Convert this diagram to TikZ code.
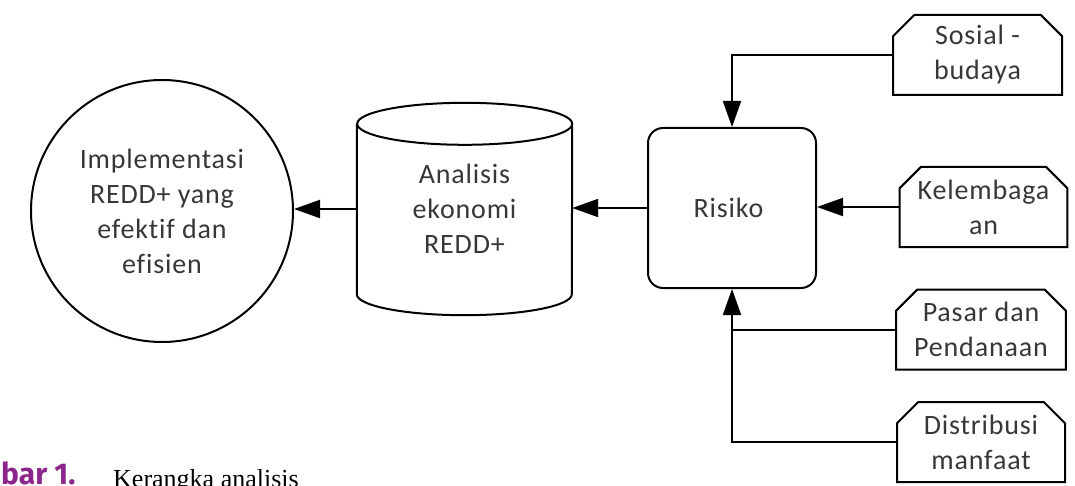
\documentclass[tikz,border=0pt]{standalone}
\usepackage{fontspec}
\setmainfont{Carlito}[LetterSpace=3, Ligatures=NoCommon]
\newfontfamily\capsans{Fira Sans}
\newfontfamily\capserif{Liberation Serif}
\usetikzlibrary{arrows.meta,shapes.misc}
\definecolor{textgray}{RGB}{55,55,55}
\definecolor{capviolet}{RGB}{140,38,140}

\begin{document}
\begin{tikzpicture}[ x=1pt, y=-1pt,
	box/.style = { draw, line width=2pt, align=center, text=textgray,
		font=\fontsize{28}{35}\selectfont },
	card/.style = { box, chamfered rectangle,
		chamfered rectangle corners={north west,north east},
		chamfered rectangle xsep=18pt, minimum height=80pt, inner sep=0pt },
	link/.style = { line width=2pt },
	arr/.style = { link, -{Triangle[length=26pt,width=18pt]} } ]
	\useasboundingbox (0,0) rectangle (1075,486);

	\node [ box, circle, minimum size=262pt, inner sep=0pt ] (1) at (162,211)
		{ Implementasi\\REDD+ yang\\efektif dan\\efisien };
	\node [ align=center, text=textgray, font=\fontsize{28}{35}\selectfont,
		minimum width=215pt, minimum height=212pt ] (2) at (464.5,209)
		{ Analisis\\ekonomi\\REDD+ };
	\draw [ link ] ([yshift=-21pt]2.north west) -- ([yshift=21pt]2.south west)
		arc [ start angle=180, end angle=360, x radius=107.5pt, y radius=21pt ]
		-- ([yshift=-21pt]2.north east)
		arc [ start angle=0, end angle=360, x radius=107.5pt, y radius=21pt ];
	\node [ box, rounded corners=15pt, minimum width=168pt, minimum height=160pt ] (3) at (732,208)
		{ Risiko };

	\node [ card, minimum width=169pt ] (4) at (977.5,55) { Sosial -\\budaya };
	\node [ card, minimum width=163pt ] (5) at (983.5,207) { Kelembaga\\an };
	\node [ card, minimum width=168pt ] (6) at (981,329.5) { Pasar dan\\Pendanaan };
	\node [ card, minimum width=168pt ] (7) at (981,442) { Distribusi\\manfaat };

	\node [ anchor=base west, inner sep=0pt, text=capviolet,
		font=\capsans\bfseries\fontsize{30}{30}\selectfont ] (8) at (1,484) { bar 1. };
	\node [ anchor=base west, inner sep=0pt,
		font=\capserif\fontsize{26}{30}\selectfont ] (9) at (113,487) { Kerangka analisis };

	\draw [ arr ] (2.west) -- (2.west -| 1.east);
	\draw [ arr ] (3.west) -- (3.west -| 2.east);
	\draw [ arr ] (4.west) -| (3.north);
	\draw [ arr ] (5.west) -- (5.west -| 3.east);
	\draw [ arr ] (6.west) -| (3.south);
	\draw [ link ] (7.west) -| (6.west -| 3.south);
\end{tikzpicture}
\end{document}
